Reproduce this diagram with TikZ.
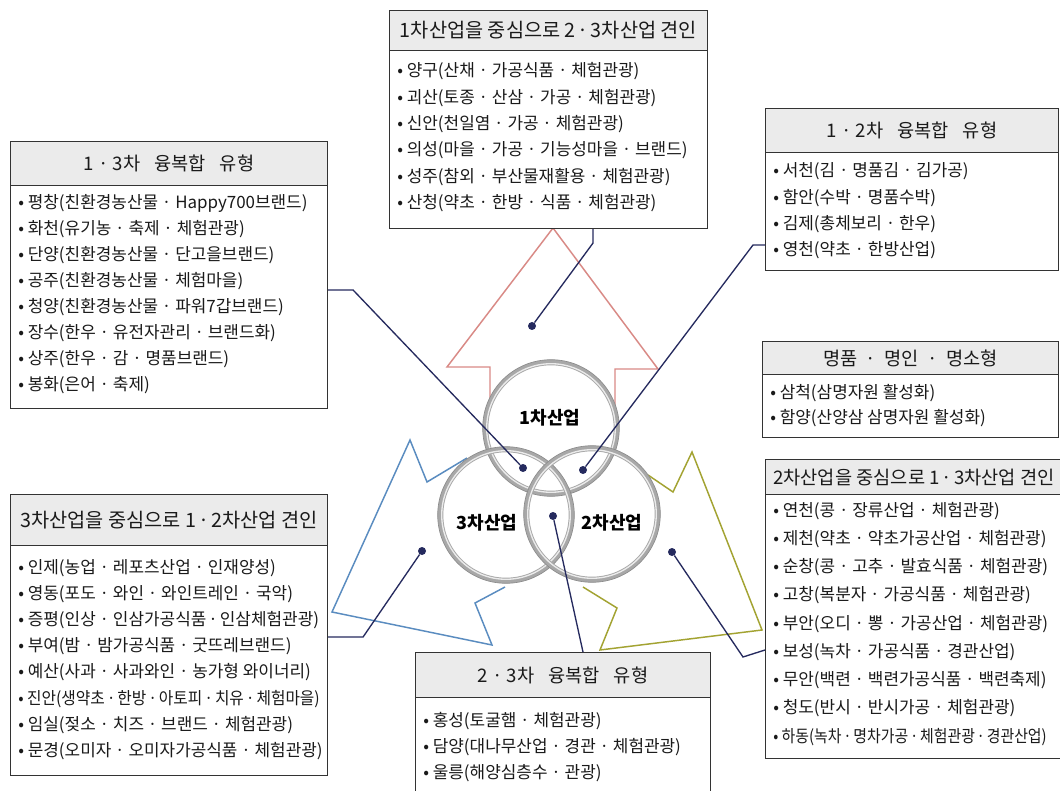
\documentclass[tikz,border=0pt]{standalone}
\usepackage{fontspec}
\usepackage{graphicx}
\setmainfont{Noto Sans CJK KR}
\usetikzlibrary{calc}
\definecolor{hdr}{HTML}{EBEBEB}
\definecolor{navy}{HTML}{252A5E}
\definecolor{arrred}{HTML}{D98A86}
\definecolor{arrblue}{HTML}{5A8CC0}
\definecolor{arrolive}{HTML}{A3A332}
\definecolor{ringgray}{HTML}{A8A8A8}
\definecolor{ringdark}{HTML}{8C8C8C}
\definecolor{txt}{HTML}{1A1A1A}
\newcommand\itemlines[2]{\vtop{\baselineskip=#1\lineskiplimit=-100pt\lineskip=0pt #2}}
\newcommand\tdot{\hspace{1.5pt}·\hspace{1.5pt}}
\tikzset{
 boxbody/.style={draw=black!80, line width=0.8pt, fill=white, rectangle, inner sep=0pt, anchor=north west},
 boxhead/.style={draw=black!80, line width=0.8pt, fill=hdr, rectangle, inner sep=0pt, anchor=north west, font=\fontsize{14}{16}\selectfont, text=txt},
 itemtext/.style={anchor=base west, inner sep=0pt, text=txt, font=\fontsize{12.7}{15}\selectfont},
 arrowshape/.style={line width=1.1pt, fill=white, line join=miter},
 conn/.style={draw=navy, line width=1pt},
 dotnode/.style={circle, fill=navy, inner sep=0pt, minimum size=6pt},
 ringfill/.style={circle, fill=white, inner sep=0pt, minimum size=99pt},
 ringline/.style={draw=ringgray, line width=4.2pt},
 ringhi/.style={draw=white!92!black, line width=1pt},
 ringout/.style={draw=ringdark, line width=0.5pt},
 ctext/.style={font=\fontsize{13.5}{16}\selectfont\bfseries, text=black, inner sep=0pt},
}
\begin{document}
\begin{tikzpicture}[x=0.75pt,y=-0.75pt]
\useasboundingbox (0,0) rectangle (1060,791);
\clip (0,0) rectangle (1060,791);
\fill[white] (0,0) rectangle (1060,791);

% ---------- arrows ----------
\draw[arrowshape, draw=arrred] (490,402) -- (490,367) -- (447,367) -- (553,228) -- (658,369) -- (615,369) -- (615,410);
\draw[arrowshape, draw=arrblue] (467,458) -- (427,482) -- (410,440) -- (332,612) -- (492,645) -- (475,603) -- (505,587);
\draw[arrowshape, draw=arrolive] (648,475) -- (673,492) -- (692,452) -- (762,630) -- (600,650) -- (617,608) -- (583,587);

% ---------- circles ----------
\node[ringfill] (c1) at (551,428) {};
\node[ringfill] (c3) at (506,515) {};
\node[ringfill] (c2) at (592,514) {};
\foreach \c in {c1,c3,c2}{
  \draw[ringline] (\c.center) circle[radius=65.5];
  \draw[ringout] (\c.center) circle[radius=68.3];
  \draw[ringhi] (\c.center) circle[radius=64.3];
}
\node[ctext] (t1) at (550,418) {1차산업};
\node[ctext] (t3) at (487,523) {3차산업};
\node[ctext] (t2) at (612,523) {2차산업};

% ---------- top box ----------
\node[boxbody, minimum width=318*0.75pt, minimum height=218*0.75pt] (tb) at (389,10) {};
\node[boxhead, minimum width=318*0.75pt, minimum height=40*0.75pt, font=\fontsize{14.8}{16}\selectfont] (tbh) at (389,10) {1차산업을 중심으로 2\tdot3차산업 견인};
\node[itemtext] (tbi) at (397,77) {\itemlines{19.7pt}{%
\hbox{• 양구(산채 · 가공식품 · 체험관광)}
\hbox{• 괴산(토종 · 산삼 · 가공 · 체험관광)}
\hbox{• 신안(천일염 · 가공 · 체험관광)}
\hbox{• 의성(마을 · 가공 · 기능성마을 · 브랜드)}
\hbox{• 성주(참외 · 부산물재활용 · 체험관광)}
\hbox{• 산청(약초 · 한방 · 식품 · 체험관광)}}};

% ---------- left top box ----------
\node[boxbody, minimum width=317*0.75pt, minimum height=267*0.75pt] (lb1) at (10,141) {};
\node[boxhead, minimum width=317*0.75pt, minimum height=44*0.75pt] (lb1h) at (10,141) {1 · 3차\hspace{0.75em}융복합\hspace{0.75em}유형};
\node[itemtext] (lb1i) at (18,209) {\itemlines{19.5pt}{%
\hbox{• 평창(친환경농산물 · Happy700브랜드)}
\hbox{• 화천(유기농 · 축제 · 체험관광)}
\hbox{• 단양(친환경농산물 · 단고을브랜드)}
\hbox{• 공주(친환경농산물 · 체험마을)}
\hbox{• 청양(친환경농산물 · 파워7갑브랜드)}
\hbox{• 장수(한우 · 유전자관리 · 브랜드화)}
\hbox{• 상주(한우 · 감 · 명품브랜드)}
\hbox{• 봉화(은어 · 축제)}}};

% ---------- right top box ----------
\node[boxbody, minimum width=293*0.75pt, minimum height=162*0.75pt] (rb1) at (765,108) {};
\node[boxhead, minimum width=293*0.75pt, minimum height=44*0.75pt] (rb1h) at (765,108) {1 · 2차\hspace{0.75em}융복합\hspace{0.75em}유형};
\node[itemtext] (rb1i) at (773,177) {\itemlines{19.7pt}{%
\hbox{• 서천(김 · 명품김 · 김가공)}
\hbox{• 함안(수박 · 명품수박)}
\hbox{• 김제(총체보리 · 한우)}
\hbox{• 영천(약초 · 한방산업)}}};

% ---------- 명품 box ----------
\node[boxbody, minimum width=296*0.75pt, minimum height=96*0.75pt] (mb) at (762,341) {};
\node[boxhead, minimum width=296*0.75pt, minimum height=33*0.75pt] (mbh) at (762,341) {명품\hspace{0.45em}·\hspace{0.45em}명인\hspace{0.45em}·\hspace{0.45em}명소형};
\node[itemtext] (mbi) at (770,398) {\itemlines{19.5pt}{%
\hbox{• 삼척(삼명자원 활성화)}
\hbox{• 함양(산양삼 삼명자원 활성화)}}};

% ---------- right bottom box ----------
\node[boxbody, minimum width=300*0.75pt, minimum height=299*0.75pt] (rb2) at (765,459) {};
\node[boxhead, minimum width=300*0.75pt, minimum height=35*0.75pt] (rb2h) at (765,459) {};
\node[anchor=west, inner sep=0pt, text=txt, font=\fontsize{14}{16}\selectfont] (rb2t) at ($(rb2h.west)+(8,0)$) {2차산업을 중심으로 1\tdot3차산업 견인};
\node[itemtext] (rb2i) at (773,516) {\itemlines{21.2pt}{%
\hbox{• 연천(콩 · 장류산업 · 체험관광)}
\hbox{• 제천(약초 · 약초가공산업 · 체험관광)}
\hbox{• 순창(콩 · 고추 · 발효식품 · 체험관광)}
\hbox{• 고창(복분자 · 가공식품 · 체험관광)}
\hbox{• 부안(오디 · 뽕 · 가공산업 · 체험관광)}
\hbox{• 보성(녹차 · 가공식품 · 경관산업)}
\hbox{• 무안(백련 · 백련가공식품 · 백련축제)}
\hbox{• 청도(반시 · 반시가공 · 체험관광)}
\hbox{\scalebox{0.88}[1]{• 하동(녹차\tdot 명차가공\tdot 체험관광\tdot 경관산업)}}}};

% ---------- left bottom box ----------
\node[boxbody, minimum width=317*0.75pt, minimum height=281*0.75pt] (lb2) at (10,494) {};
\node[boxhead, minimum width=317*0.75pt, minimum height=51*0.75pt, font=\fontsize{14.8}{16}\selectfont] (lb2h) at (10,494) {3차산업을 중심으로 1\tdot2차산업 견인};
\node[itemtext] (lb2i) at (18,573) {\itemlines{19.65pt}{%
\hbox{• 인제(농업 · 레포츠산업 · 인재양성)}
\hbox{• 영동(포도 · 와인 · 와인트레인 · 국악)}
\hbox{• 증평(인상 · 인삼가공식품\tdot 인삼체험관광)}
\hbox{• 부여(밤 · 밤가공식품 · 굿뜨레브랜드)}
\hbox{• 예산(사과 · 사과와인 · 농가형 와이너리)}
\hbox{\scalebox{0.93}[1]{• 진안(생약초\tdot 한방\tdot 아토피\tdot 치유\tdot 체험마을)}}
\hbox{• 임실(젖소 · 치즈 · 브랜드 · 체험관광)}
\hbox{• 문경(오미자 · 오미자가공식품 · 체험관광)}}};

% ---------- bottom box ----------
\node[boxbody, minimum width=295*0.75pt, minimum height=160*0.75pt] (bb) at (415,652) {};
\node[boxhead, minimum width=295*0.75pt, minimum height=45*0.75pt] (bbh) at (415,652) {2 · 3차\hspace{0.75em}융복합\hspace{0.75em}유형};
\node[itemtext] (bbi) at (423,726) {\itemlines{19.5pt}{%
\hbox{• 홍성(토굴햄 · 체험관광)}
\hbox{• 담양(대나무산업 · 경관 · 체험관광)}
\hbox{• 울릉(해양심층수 · 관광)}}};

% ---------- connectors ----------
\node[dotnode] (d1) at (532,326) {};
\node[dotnode] (d2) at (523,468) {};
\node[dotnode] (d3) at (583,470) {};
\node[dotnode] (d4) at (553,516) {};
\node[dotnode] (d5) at (422,551) {};
\node[dotnode] (d6) at (672,552) {};
\draw[conn] ($(tb.south west)+(204,0)$) -- ++(0,14) -- (d1);
\draw[conn] ($(lb1.north east)+(0,149)$) -- ++(25,0) -- (d2);
\draw[conn] ($(rb1.north west)+(0,137)$) -- ++(-12,0) -- (d3);
\draw[conn] ($(bb.north west)+(168,0)$) -- (d4);
\draw[conn] ($(lb2.north east)+(0,143)$) -- ++(35,0) -- (d5);
\draw[conn] ($(rb2.north west)+(0,191)$) -- ++(-22,7) -- (d6);
\end{tikzpicture}
\end{document}
